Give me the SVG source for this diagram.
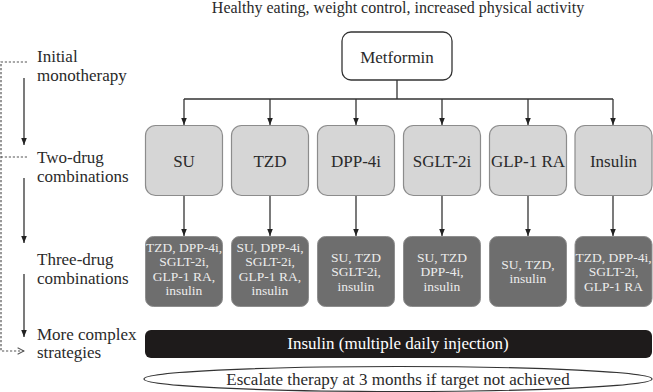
<svg xmlns="http://www.w3.org/2000/svg" width="653" height="392" viewBox="0 0 653 392" font-family="Liberation Serif, Times New Roman, serif">
<style>
text{font-family:'Liberation Serif','Times New Roman',serif;fill:#2a2a2a}
.lbl{font-size:17px}
.mid{text-anchor:middle}
.g{fill:#d6d6d6;stroke:#8c8c8c;stroke-width:1.2}
.d{fill:#6e6e6e;stroke:#8e8e8e;stroke-width:1}
text.dt{font-size:13.5px;fill:#ececec;text-anchor:middle}
text.w{fill:#fff}
.c{stroke:#333;stroke-width:1.3;fill:none}
.ds{stroke:#555;stroke-width:1.2;fill:none;stroke-dasharray:2.2 1.8}
</style>
<defs>
<marker id="ah" viewBox="0 0 10 10" refX="10" refY="5" markerWidth="7" markerHeight="7" markerUnits="userSpaceOnUse" orient="auto"><path d="M0,1 L10,5 L0,9 z" fill="#222"/></marker>
<marker id="oh" viewBox="0 0 10 10" refX="9" refY="5" markerWidth="8" markerHeight="8" markerUnits="userSpaceOnUse" orient="auto"><path d="M1,1 L9,5 L1,9" fill="none" stroke="#555" stroke-width="1.3"/></marker>
</defs>
<rect width="653" height="392" fill="#fff"/>
<text class="mid" x="398" y="13" font-size="16">Healthy eating, weight control, increased physical activity</text>

<g id="stages">
<text class="lbl" x="37" y="62">Initial</text>
<text class="lbl" x="37" y="81">monotherapy</text>
<text class="lbl" x="37" y="163">Two-drug</text>
<text class="lbl" x="37" y="182">combinations</text>
<text class="lbl" x="37" y="265">Three-drug</text>
<text class="lbl" x="37" y="284">combinations</text>
<text class="lbl" x="37" y="340">More complex</text>
<text class="lbl" x="37" y="358">strategies</text>
</g>

<g id="connectors">
<path class="ds" d="M27,62 H1 V351 H24" marker-end="url(#oh)"/>
<path class="ds" d="M27,157 H1"/>
<line class="c" x1="24" y1="78" x2="24" y2="145" marker-end="url(#ah)"/>
<line class="c" x1="24" y1="178" x2="24" y2="243" marker-end="url(#ah)"/>
<line class="c" x1="24" y1="274" x2="24" y2="337" marker-end="url(#ah)"/>
<path class="c" d="M397,80 V99 M184,99 H613"/>
<line class="c" x1="184" y1="99" x2="184" y2="125" marker-end="url(#ah)"/>
<line class="c" x1="270" y1="99" x2="270" y2="125" marker-end="url(#ah)"/>
<line class="c" x1="356" y1="99" x2="356" y2="125" marker-end="url(#ah)"/>
<line class="c" x1="442" y1="99" x2="442" y2="125" marker-end="url(#ah)"/>
<line class="c" x1="528" y1="99" x2="528" y2="125" marker-end="url(#ah)"/>
<line class="c" x1="613" y1="99" x2="613" y2="125" marker-end="url(#ah)"/>
<line class="c" x1="184" y1="196" x2="184" y2="236" marker-end="url(#ah)"/>
<line class="c" x1="270" y1="196" x2="270" y2="236" marker-end="url(#ah)"/>
<line class="c" x1="356" y1="196" x2="356" y2="236" marker-end="url(#ah)"/>
<line class="c" x1="442" y1="196" x2="442" y2="236" marker-end="url(#ah)"/>
<line class="c" x1="528" y1="196" x2="528" y2="236" marker-end="url(#ah)"/>
<line class="c" x1="613" y1="196" x2="613" y2="236" marker-end="url(#ah)"/>
</g>

<g id="metformin">
<rect x="342" y="32" width="110" height="48" rx="9" fill="#fff" stroke="#333" stroke-width="1.3"/>
<text class="lbl mid" x="397" y="63">Metformin</text>
</g>

<g id="su"><rect class="g" x="145.5" y="125.5" width="77" height="70" rx="10"/><text class="lbl mid" x="184" y="167">SU</text></g>
<g id="tzd"><rect class="g" x="231.5" y="125.5" width="77" height="70" rx="10"/><text class="lbl mid" x="270" y="167">TZD</text></g>
<g id="dpp4i"><rect class="g" x="317.5" y="125.5" width="77" height="70" rx="10"/><text class="lbl mid" x="356" y="167">DPP-4i</text></g>
<g id="sglt2i"><rect class="g" x="403.5" y="125.5" width="77" height="70" rx="10"/><text class="lbl mid" x="442" y="167">SGLT-2i</text></g>
<g id="glp1ra"><rect class="g" x="489.5" y="125.5" width="77" height="70" rx="10"/><text class="lbl mid" x="528" y="167">GLP-1 RA</text></g>
<g id="insulin"><rect class="g" x="575" y="125.5" width="77" height="70" rx="10"/><text class="lbl mid" x="613.5" y="167">Insulin</text></g>

<g id="su3"><rect class="d" x="145.5" y="236.5" width="77" height="70" rx="8"/>
<text class="dt" x="184" y="252">TZD, DPP-4i,</text><text class="dt" x="184" y="266.3">SGLT-2i,</text><text class="dt" x="184" y="280.6">GLP-1 RA,</text><text class="dt" x="184" y="295">insulin</text></g>
<g id="tzd3"><rect class="d" x="231.5" y="236.5" width="77" height="70" rx="8"/>
<text class="dt" x="270" y="252">SU, DPP-4i,</text><text class="dt" x="270" y="266.3">SGLT-2i,</text><text class="dt" x="270" y="280.6">GLP-1 RA,</text><text class="dt" x="270" y="295">insulin</text></g>
<g id="dpp4i3"><rect class="d" x="317.5" y="236.5" width="77" height="70" rx="8"/>
<text class="dt" x="356" y="262">SU, TZD</text><text class="dt" x="356" y="276.3">SGLT-2i,</text><text class="dt" x="356" y="290.6">insulin</text></g>
<g id="sglt2i3"><rect class="d" x="403.5" y="236.5" width="77" height="70" rx="8"/>
<text class="dt" x="442" y="262">SU, TZD</text><text class="dt" x="442" y="276.3">DPP-4i,</text><text class="dt" x="442" y="290.6">insulin</text></g>
<g id="glp1ra3"><rect class="d" x="489.5" y="236.5" width="77" height="70" rx="8"/>
<text class="dt" x="528" y="269">SU, TZD,</text><text class="dt" x="528" y="283.3">insulin</text></g>
<g id="insulin3"><rect class="d" x="575" y="236.5" width="77" height="70" rx="8"/>
<text class="dt" x="613.5" y="262">TZD, DPP-4i,</text><text class="dt" x="613.5" y="276.3">SGLT-2i,</text><text class="dt" x="613.5" y="290.6">GLP-1 RA</text></g>

<g id="mdi">
<rect x="145" y="330" width="507" height="28" rx="6" fill="#1e1b1b"/>
<text class="lbl mid w" x="398" y="349">Insulin (multiple daily injection)</text>
</g>
<g id="escalate">
<ellipse cx="398" cy="379" rx="254" ry="12.5" fill="#fff" stroke="#333" stroke-width="1.2"/>
<text class="lbl mid" x="398" y="385">Escalate therapy at 3 months if target not achieved</text>
</g>
</svg>
